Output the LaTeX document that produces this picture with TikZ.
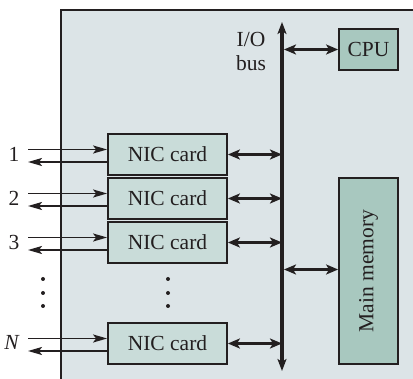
\documentclass[tikz,border=0pt]{standalone}
\usepackage{fontspec}
\setmainfont{Liberation Serif}
\usetikzlibrary{arrows.meta}
\definecolor{bgc}{HTML}{DCE4E7}
\definecolor{nicc}{HTML}{C9DCD9}
\definecolor{cpuc}{HTML}{A8C8BF}
\definecolor{linec}{HTML}{231F20}
\begin{document}
\begin{tikzpicture}[x=1pt,y=-1pt,
  every node/.style={font=\fontsize{21.5}{24}\selectfont, text=linec},
  nicbox/.style={draw=linec, line width=1.8pt, fill=nicc, minimum width=119pt, minimum height=41pt, inner sep=0pt},
  darkbox/.style={draw=linec, line width=1.8pt, fill=cpuc, minimum width=59pt, inner sep=0pt},
  dbl/.style={line width=2.4pt, draw=linec, {Stealth[length=12pt,width=10pt,inset=3pt]}-{Stealth[length=12pt,width=10pt,inset=3pt]}},
  busline/.style={line width=3.2pt, draw=linec, {Stealth[length=12pt,width=9pt,inset=3pt]}-{Stealth[length=12pt,width=9pt,inset=3pt]}},
  inl/.style={line width=1.7pt, draw=linec, -{Stealth[length=14pt,width=8pt,inset=3pt]}},
  dotc/.style={circle, fill=linec, inner sep=0pt, minimum size=4pt}
]
\useasboundingbox (0,0) rectangle (413,379);
\fill[bgc] (61,10) rectangle (413,379);
\draw[linec, line width=1.6pt] (61,379) -- (61,10) -- (413,10);

\node[nicbox] (nic1) at (167.5,154.5) {NIC card};
\node[nicbox] (nic2) at (167.5,198.5) {NIC card};
\node[nicbox] (nic3) at (167.5,242.5) {NIC card};
\node[nicbox] (nicN) at (167.5,343.5) {NIC card};
\node[darkbox, minimum height=41pt] (cpu) at (368.5,49.5) {CPU};
\node[darkbox, minimum height=186pt] (mem) at (368.5,271) {};
\node[rotate=90] (memlabel) at (mem.center) {Main memory};

\coordinate (bustop) at (282,22);
\coordinate (busbot) at (282,371);
\draw[busline] (busbot) -- (bustop);
\node[align=center] (iolabel) at (251,51) {I/O\\bus};

\draw[dbl] ([xshift=2pt]cpu.west -| bustop) -- (cpu.west);
\draw[dbl] ([xshift=2pt,yshift=1.5pt]mem.west -| bustop) -- ([yshift=1.5pt]mem.west);
\foreach \n in {nic1,nic2,nic3,nicN}{
  \draw[dbl] (\n.east) -- (\n.east -| bustop);
  \coordinate (in\n) at ([yshift=5pt]\n.west -| 28,0);
  \coordinate (out\n) at ([yshift=-7.5pt]\n.west -| 28,0);
  \draw[inl] (in\n) -- (in\n -| \n.west);
  \draw[inl] (out\n -| \n.west) -- (out\n);
}

\node (l1) at (14,154) {1};
\node (l2) at (14,198) {2};
\node (l3) at (14,242) {3};
\node (lN) at (12,342) {\textit{N}};

\foreach \y [count=\i] in {279,293,306}{
  \node[dotc] (da\i) at (43,\y) {};
  \node[dotc] (db\i) at (168,\y) {};
}
\end{tikzpicture}
\end{document}
